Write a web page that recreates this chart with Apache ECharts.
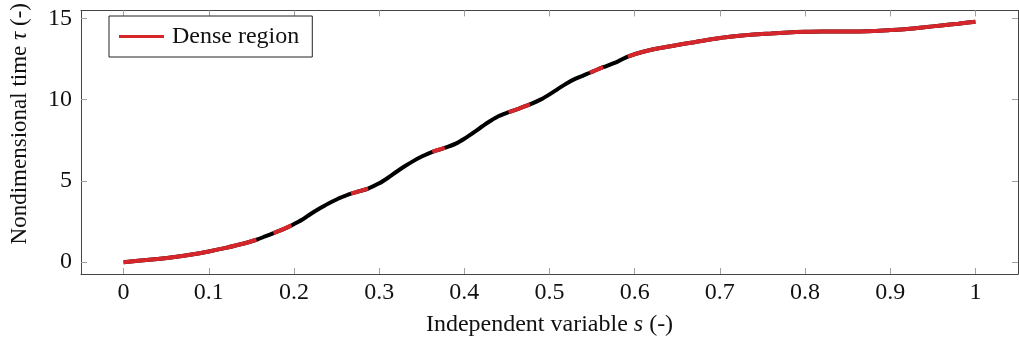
<!DOCTYPE html>
<html>
<head>
<meta charset="utf-8">
<script src="https://cdn.jsdelivr.net/npm/echarts@6/dist/echarts.min.js"></script>
<style>
  html, body { margin: 0; padding: 0; background: #fff; }
  #chart { width: 1019px; height: 344px; }
</style>
</head>
<body>
<div id="chart"></div>
<script>
// independent variable s and nondimensional time tau
const sValues = [
  0, 0.02, 0.04, 0.06, 0.08, 0.10, 0.12, 0.14, 0.156, 0.166, 0.176, 0.187, 0.197,
  0.21, 0.22, 0.23, 0.24, 0.25, 0.26, 0.267, 0.277, 0.287, 0.30, 0.31, 0.32, 0.33,
  0.34, 0.35, 0.3625, 0.37, 0.377, 0.39, 0.40, 0.41, 0.42, 0.43, 0.44, 0.452, 0.465,
  0.477, 0.49, 0.50, 0.51, 0.52, 0.53, 0.54, 0.5475, 0.555, 0.563, 0.58, 0.592,
  0.61, 0.63, 0.65, 0.67, 0.70, 0.72, 0.74, 0.76, 0.78, 0.80, 0.82, 0.84, 0.86,
  0.88, 0.90, 0.92, 0.94, 0.96, 0.98, 1.00
];
const tauValues = [
  0, 0.10, 0.20, 0.32, 0.47, 0.66, 0.88, 1.13, 1.38, 1.58, 1.79, 2.02, 2.26,
  2.62, 2.98, 3.30, 3.60, 3.86, 4.08, 4.22, 4.37, 4.53, 4.85, 5.18, 5.55, 5.90,
  6.22, 6.50, 6.79, 6.92, 7.03, 7.30, 7.60, 7.95, 8.32, 8.67, 8.98, 9.23, 9.47,
  9.71, 10.02, 10.33, 10.67, 11.00, 11.28, 11.50, 11.66, 11.83, 12.00, 12.35, 12.66,
  12.95, 13.18, 13.37, 13.54, 13.80, 13.92, 14.02, 14.08, 14.14, 14.18, 14.20, 14.20, 14.20,
  14.23, 14.29, 14.36, 14.46, 14.57, 14.68, 14.80
];
// s ranges drawn in red
const denseRanges = [
  [0, 0.156], [0.176, 0.197], [0.267, 0.287], [0.3625, 0.377],
  [0.452, 0.477], [0.5475, 0.563], [0.592, 1]
];
const xTicks = [0, 0.1, 0.2, 0.3, 0.4, 0.5, 0.6, 0.7, 0.8, 0.9, 1];
const yTicks = [0, 5, 10, 15];

const allPoints = sValues.map((s, i) => [s, tauValues[i]]);
const densePoints = sValues.map((s, i) => {
  const inside = denseRanges.some(r => s >= r[0] - 1e-9 && s <= r[1] + 1e-9);
  return inside ? [s, tauValues[i]] : [s, null];
});

const font = "'Liberation Serif', 'DejaVu Serif', serif";
const frameColor = "#444";
const tickColor = "#a0a0a0";
const red = "#d7262b";

function xAxis(pos, show) {
  return {
    type: "value",
    position: pos,
    min: -0.05,
    max: 1.05,
    axisLine: { show: true, onZero: false, lineStyle: { color: frameColor, width: 1 } },
    axisTick: { show: true, inside: true, length: 6, customValues: xTicks, lineStyle: { color: tickColor } },
    axisLabel: {
      show: show, customValues: xTicks, margin: 7,
      color: "#111", fontFamily: font, fontSize: 24
    },
    splitLine: { show: false }
  };
}
function yAxis(pos, show) {
  return {
    type: "value",
    position: pos,
    min: -0.73,
    max: 15.5,
    axisLine: { show: true, onZero: false, lineStyle: { color: frameColor, width: 1 } },
    axisTick: { show: true, inside: true, length: 6, customValues: yTicks, lineStyle: { color: tickColor } },
    axisLabel: {
      show: show, customValues: yTicks, margin: 9,
      color: "#111", fontFamily: font, fontSize: 24
    },
    splitLine: { show: false }
  };
}

const chart = echarts.init(document.getElementById("chart"), null, { renderer: "canvas" });

const xBottom = xAxis("bottom", true);
xBottom.name = "{n|Independent variable }{i|s}{n| (-)}";
xBottom.nameLocation = "middle";
xBottom.nameGap = 39;
xBottom.nameTextStyle = {
  rich: {
    n: { fontFamily: font, fontSize: 24, color: "#111" },
    i: { fontFamily: font, fontSize: 24, color: "#111", fontStyle: "italic" }
  }
};
const yLeft = yAxis("left", true);
yLeft.name = "{n|Nondimensional time }{i|τ}{n| (-)}";
yLeft.nameLocation = "middle";
yLeft.nameRotate = 90;
yLeft.nameGap = 50;
yLeft.nameTextStyle = {
  padding: [0, 0, 0, 37],
  rich: {
    n: { fontFamily: font, fontSize: 23, color: "#111" },
    i: { fontFamily: font, fontSize: 23, color: "#111", fontStyle: "italic" }
  }
};

chart.setOption({
  animation: false,
  backgroundColor: "#fff",
  grid: { left: 81, right: 1, top: 8, bottom: 70, containLabel: false },
  legend: {
    data: [{ name: "Dense region", icon: "rect" }],
    left: 109,
    top: 16,
    orient: "vertical",
    padding: [6, 13, 6, 10],
    itemWidth: 45,
    itemHeight: 3,
    backgroundColor: "#fff",
    borderColor: "#222",
    borderWidth: 1,
    borderRadius: 0,
    itemStyle: { color: red },
    textStyle: { fontFamily: font, fontSize: 24, color: "#111", padding: [0, 0, 0, 3], lineHeight: 29 }
  },
  xAxis: [xBottom, xAxis("top", false)],
  yAxis: [yLeft, yAxis("right", false)],
  series: [
    {
      name: "full",
      type: "line",
      data: allPoints,
      symbol: "none",
      smooth: 0.3,
      lineStyle: { color: "#000", width: 4 },
      itemStyle: { color: "#000" },
      z: 2
    },
    {
      name: "Dense region",
      type: "line",
      data: densePoints,
      symbol: "none",
      smooth: 0.3,
      connectNulls: false,
      lineStyle: { color: red, width: 4 },
      itemStyle: { color: red },
      z: 3
    }
  ]
});
</script>
</body>
</html>
